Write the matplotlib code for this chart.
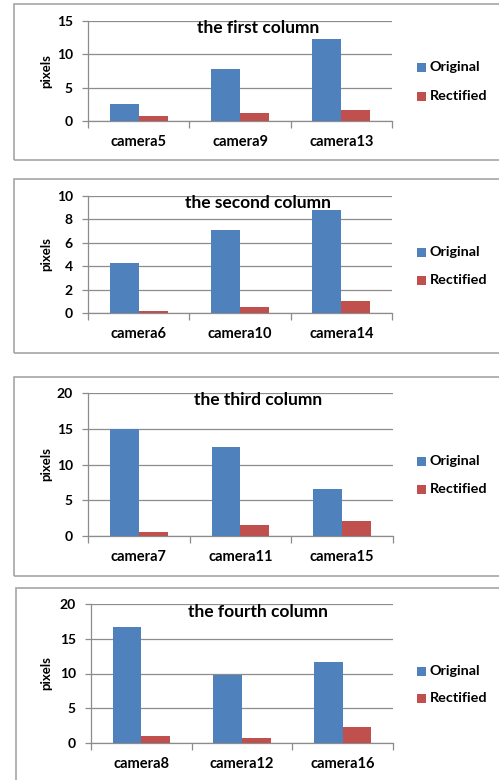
import matplotlib
matplotlib.use("Agg")
import matplotlib.pyplot as plt
from matplotlib.patches import Rectangle

plt.rcParams['font.family'] = ['Lato', 'DejaVu Sans']
plt.rcParams['font.weight'] = 'bold'

# ---- data ----
titles = ["the first column", "the second column", "the third column", "the fourth column"]
cameras = [
    ["camera5", "camera9", "camera13"],
    ["camera6", "camera10", "camera14"],
    ["camera7", "camera11", "camera15"],
    ["camera8", "camera12", "camera16"],
]
original = [
    [2.5, 7.8, 12.25],
    [4.25, 7.1, 8.8],
    [15.0, 12.4, 6.6],
    [16.7, 9.8, 11.6],
]
rectified = [
    [0.7, 1.25, 1.6],
    [0.2, 0.5, 1.03],
    [0.55, 1.5, 2.1],
    [1.0, 0.78, 2.3],
]
y_max = [15, 10, 20, 20]
y_step = [5, 2, 5, 5]
series_names = ["Original", "Rectified"]

BLUE = "#4F81BD"
RED = "#C0504D"
GRID = "#8c8c8c"

W, H = 499, 780
fig = plt.figure(figsize=(W / 100, H / 100), dpi=100)


def fx(x):
    return x / W


def fy(y):
    return 1 - y / H


# layout in pixels: (box_top, box_bottom, box_left, axes_left, axes_right, axes_top, axes_bottom, title_y, legend_y1, legend_y2)
layout = [
    (4, 160, 14, 88, 392, 21, 121, 28, 67, 96),
    (179, 353, 14, 88, 392, 196, 313, 203, 252, 280),
    (377, 576, 14, 88, 393, 393, 536, 400, 461, 489),
    (588, 800, 16, 91, 393, 604, 743, 612, 671, 698),
]

for i in range(4):
    bt, bb, bl, al, ar, at, ab, ty, ly1, ly2 = layout[i]
    # panel frame
    fig.patches.append(Rectangle((fx(bl), fy(bb)), fx(W + 20 - bl), fy(bt) - fy(bb),
                                 transform=fig.transFigure, fill=False,
                                 edgecolor="#a6a6a6", linewidth=1.2))
    ax = fig.add_axes([fx(al), fy(ab), fx(ar - al), fy(at) - fy(ab)])
    xs = list(range(3))
    w = 0.285
    ax.bar([x - w / 2 for x in xs], original[i], width=w, color=BLUE, zorder=3)
    ax.bar([x + w / 2 for x in xs], rectified[i], width=w, color=RED, zorder=3)
    ax.set_xlim(-0.5, 2.5)
    ax.set_ylim(0, y_max[i])
    ax.set_yticks(range(0, y_max[i] + 1, y_step[i]))
    ax.yaxis.grid(True, color=GRID, linewidth=0.9, zorder=0)
    ax.set_axisbelow(True)
    for s in ["top", "right"]:
        ax.spines[s].set_visible(False)
    for s in ["left", "bottom"]:
        ax.spines[s].set_color(GRID)
        ax.spines[s].set_linewidth(0.9)
    ax.tick_params(axis="y", length=4, color=GRID, labelsize=10, pad=7, width=0.9)
    ax.set_xticks([-0.5, 0.5, 1.5, 2.5])
    ax.set_xticklabels([])
    ax.tick_params(axis="x", length=5, color=GRID, width=0.9)
    ax.set_xticks(xs, minor=True)
    ax.set_xticklabels(cameras[i], minor=True, fontsize=10.5, fontweight="bold")
    ax.tick_params(axis="x", which="minor", length=0, pad=10)
    for lab in ax.get_yticklabels():
        lab.set_fontweight("bold")
    # axis title
    fig.text(fx(46), fy((at + ab) / 2), "pixels", rotation=90, ha="center", va="center",
             fontsize=9.5, fontweight="bold")
    fig.text(fx(258), fy(ty), titles[i], ha="center", va="center",
             fontsize=12.5, fontweight="bold")
    # legend
    for yy, name, col in [(ly1, series_names[0], BLUE), (ly2, series_names[1], RED)]:
        fig.patches.append(Rectangle((fx(417), fy(yy + 4.5)), fx(9), fy(yy - 4.5) - fy(yy + 4.5),
                                     transform=fig.transFigure, facecolor=col, edgecolor="none"))
        fig.text(fx(430), fy(yy), name, ha="left", va="center", fontsize=10.4, fontweight="bold")

fig.savefig("out.png", dpi=100, facecolor="white")
